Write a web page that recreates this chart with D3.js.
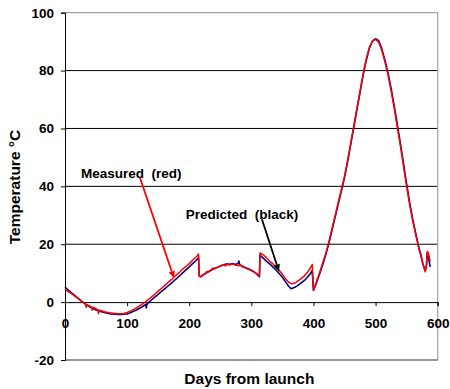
<!DOCTYPE html>
<html><head><meta charset="utf-8">
<script src="https://cdn.jsdelivr.net/npm/d3@7"></script>
<style>body{margin:0;background:#fff}svg{display:block}text{font-family:"Liberation Sans",Arial,sans-serif;font-weight:bold;fill:#000;white-space:pre}</style>
</head><body><svg id="c" width="450" height="389"></svg>
<script>
const xTicks=[0,100,200,300,400,500,600];
const yTicks=[-20,0,20,40,60,80,100];
const measuredDays=[0,5,10,15,20,25,30,33,34,35,40,43,44,45,50,53,54,55,60,65,70,75,80,85,90,95,100,105,110,115,120,125,130,135,140,145,150,155,160,165,170,172,175,180,185,190,195,200,205,210,213,215,216,218,222,226,228,230,235,238,240,245,250,255,258,260,265,270,275,280,282,285,290,295,300,305,310,313,314,317,320,325,330,335,340,345,350,355,360,365,370,375,380,385,390,395,398,400,405,410,415,420,425,430,435,440,445,450,455,460,465,470,475,480,485,490,495,500,505,510,515,520,525,530,535,540,545,550,555,560,565,570,573,576,580,582,583,585,588];
const measuredTemp=[4.5,3.6,3.0,2.2,1.5,0.6,-0.3,-0.6,-1.8,-0.9,-1.4,-1.8,-2.8,-1.7,-2.3,-2.7,-4.0,-2.8,-3.1,-3.4,-3.6,-3.8,-3.9,-4.0,-4.0,-3.9,-3.6,-3.1,-2.6,-2.0,-1.3,-0.6,0.2,1.0,1.9,2.8,3.8,4.7,5.6,6.6,7.6,7.8,8.6,9.5,10.4,11.5,12.4,13.3,14.4,15.4,16.0,16.6,9.2,8.6,9.5,9.8,10.6,10.3,11.0,11.8,11.4,12.0,12.4,12.9,12.5,13.0,12.8,13.2,12.7,12.6,13.0,12.2,11.9,11.3,10.9,10.3,9.7,9.2,17.0,16.6,16.2,15.2,14.0,13.2,12.0,10.9,9.6,8.1,6.9,6.3,6.6,7.3,8.1,9.0,10.2,11.8,13.0,4.2,7.2,10.2,13.6,17.0,21.0,25.5,30.0,34.5,39.0,43.5,49.0,55.0,61.0,67.0,73.0,79.0,84.0,88.0,90.2,90.8,89.8,87.0,83.0,78.5,73.0,67.0,60.5,54.0,47.0,40.0,33.5,27.8,23.0,18.2,16.0,13.5,10.5,13.0,17.5,17.0,14.0];
const predictedDays=[0,5,10,15,20,25,30,35,40,45,50,55,60,65,70,75,80,85,90,95,100,105,110,115,120,125,130,131,132,135,140,145,150,155,160,165,170,175,180,185,190,195,200,205,210,215,216,218,222,226,230,235,240,245,250,255,260,265,270,275,279,280,281,285,290,295,300,305,310,313,314,316,320,325,330,335,340,345,350,355,360,364,370,375,380,385,390,395,398,400,405,410,415,420,425,430,435,440,445,450,455,460,465,470,475,480,485,490,495,500,505,510,515,520,525,530,535,540,545,550,555,560,565,570,573,576,580,582,583,585,588];
const predictedTemp=[5.2,4.2,3.3,2.4,1.5,0.6,-0.2,-1.0,-1.6,-2.2,-2.7,-3.1,-3.4,-3.7,-3.9,-4.1,-4.2,-4.3,-4.3,-4.2,-4.1,-3.7,-3.2,-2.7,-2.1,-1.5,-0.8,-2.0,-0.7,-0.1,0.9,1.8,2.7,3.6,4.5,5.4,6.3,7.3,8.2,9.2,10.2,11.2,12.2,13.2,14.2,15.3,9.0,8.8,9.3,9.9,10.4,11.0,11.6,12.0,12.5,12.9,13.2,13.1,13.3,13.0,13.4,14.2,13.0,12.5,12.0,11.5,11.0,10.4,9.4,8.8,16.4,15.8,15.0,14.0,13.1,12.1,11.0,9.8,8.6,7.0,5.5,4.6,5.1,5.8,6.6,7.4,8.5,9.8,11.0,4.0,6.8,9.8,13.0,16.5,20.5,25.0,29.5,34.0,38.5,43.0,48.5,54.5,60.5,66.5,72.5,78.5,83.5,87.8,90.2,91.0,90.3,87.6,83.6,79.2,73.8,67.8,61.3,54.8,47.8,40.8,34.2,28.4,23.4,18.5,16.4,13.2,10.8,12.6,16.8,15.4,12.2];
const annotations=[{text:"Measured  (red)",day:25.8,temp:43.0,fromDay:120.7,fromTemp:43.0,toDay:175.5,toTemp:8.3,color:"#ff0000"},
{text:"Predicted  (black)",day:194.3,temp:28.8,fromDay:317,fromTemp:28.6,toDay:344.5,toTemp:10.6,color:"#000000"}];

const svg=d3.select("#c");
const L=65,R=437.7,T=12.7,B=360;
const x=d3.scaleLinear().domain([0,600]).range([L,R]);
const y=d3.scaleLinear().domain([-20,100]).range([B,T]);

svg.append("g").selectAll("line").data(yTicks.filter(v=>v>0&&v<100)).join("line")
 .attr("x1",L).attr("x2",R).attr("y1",d=>y(d)).attr("y2",d=>y(d)).attr("stroke","#000").attr("stroke-width",1);
svg.append("path").attr("d",`M${L},${y(100)}H${R}V${y(-20)}H${L}`).attr("fill","none").attr("stroke","#a0a0a0").attr("stroke-width",1.2);
svg.append("line").attr("x1",L).attr("x2",R).attr("y1",y(-20)).attr("y2",y(-20)).attr("stroke","#606060");

const fmt=d=>String(d);
const yAxis=d3.axisLeft(y).tickValues(yTicks).tickSize(4).tickPadding(7).tickFormat(fmt);
const gy=svg.append("g").attr("transform",`translate(${L},0)`).call(yAxis);
gy.select(".domain").attr("stroke","#000");
gy.selectAll("text").style("font-size","13.5px").attr("font-family",null);

const xAxis=d3.axisBottom(x).tickValues(xTicks).tickSize(4).tickPadding(12).tickFormat(fmt);
const gx=svg.append("g").attr("transform",`translate(0,${y(0)})`).call(xAxis);
gx.select(".domain").attr("stroke","#000");
gx.selectAll("text").style("font-size","13.5px").attr("font-family",null);

const line=d3.line().x(d=>x(d[0])).y(d=>y(d[1]));
svg.append("path").datum(predictedDays.map((d,i)=>[d,predictedTemp[i]])).attr("d",line)
 .attr("fill","none").attr("stroke","#000080").attr("stroke-width",1.6).attr("stroke-linejoin","round");
svg.append("path").datum(measuredDays.map((d,i)=>[d,measuredTemp[i]])).attr("d",line)
 .attr("fill","none").attr("stroke","#ff0000").attr("stroke-width",1.5).attr("stroke-linejoin","round");

annotations.forEach(a=>{
  svg.append("text").attr("x",x(a.day)).attr("y",y(a.temp)).attr("xml:space","preserve").style("font-size","13.5px").text(a.text);
  const x1=x(a.fromDay),y1=y(a.fromTemp),x2=x(a.toDay),y2=y(a.toTemp);
  const ang=Math.atan2(y2-y1,x2-x1),hl=7,hw=3.2;
  const bx=x2-hl*Math.cos(ang),by=y2-hl*Math.sin(ang);
  svg.append("line").attr("x1",x1).attr("y1",y1).attr("x2",bx).attr("y2",by).attr("stroke",a.color).attr("stroke-width",1.8);
  const px=-Math.sin(ang),py=Math.cos(ang);
  svg.append("path").attr("d",`M${x2},${y2}L${bx+px*hw},${by+py*hw}L${bx-px*hw},${by-py*hw}Z`).attr("fill",a.color);
});

svg.append("text").attr("x",(L+R)/2-2).attr("y",384).attr("text-anchor","middle").style("font-size","15.5px").text("Days from launch");
svg.append("text").attr("transform",`translate(20,${187}) rotate(-90)`).attr("text-anchor","middle").style("font-size","15.5px").text("Temperature °C");
</script></body></html>
